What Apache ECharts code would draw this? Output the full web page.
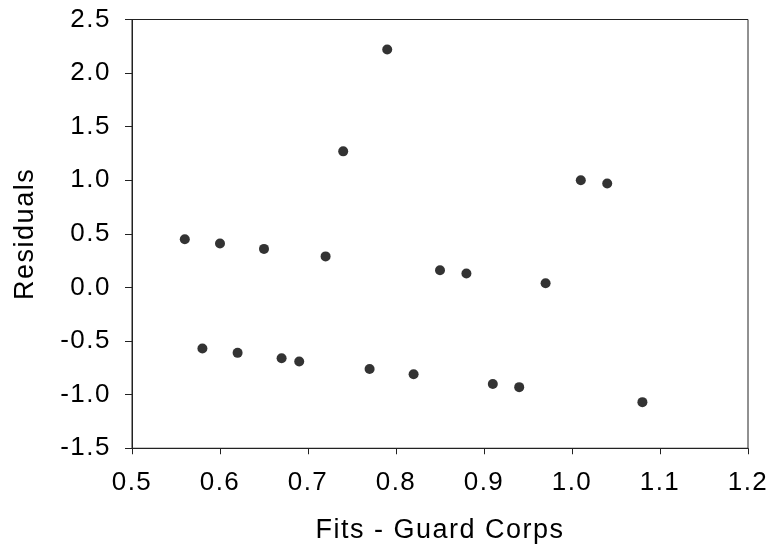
<!DOCTYPE html>
<html>
<head>
<meta charset="utf-8">
<script src="https://cdn.jsdelivr.net/npm/echarts@6/dist/echarts.min.js"></script>
<style>html,body{margin:0;padding:0;background:#fff}#c{width:778px;height:550px}</style>
</head>
<body>
<div id="c"></div>
<script>
// Slight letter spacing to match the reference's text width
(function(){
  var P = CanvasRenderingContext2D.prototype;
  var f = P.fillText, m = P.measureText;
  P.fillText = function(){ try{ this.letterSpacing = '1.5px'; }catch(e){} return f.apply(this, arguments); };
  P.measureText = function(){ try{ this.letterSpacing = '1.5px'; }catch(e){} return m.apply(this, arguments); };
})();

const fits = [0.56, 0.58, 0.60, 0.62, 0.65, 0.67, 0.69, 0.72, 0.74, 0.77, 0.79, 0.82, 0.85, 0.88, 0.91, 0.94, 0.97, 1.01, 1.04, 1.08];
const residuals = [0.45, -0.57, 0.41, -0.61, 0.36, -0.66, -0.69, 0.29, 1.27, -0.76, 2.22, -0.81, 0.16, 0.13, -0.90, -0.93, 0.04, 1.00, 0.97, -1.07];
const xTitle = 'Fits - Guard Corps';
const yTitle = 'Residuals';

const pts = fits.map((x, i) => [x, residuals[i]]);
const font = '"Liberation Sans", Arial, sans-serif';

const chart = echarts.init(document.getElementById('c'), null, {renderer: 'canvas'});
chart.setOption({
  animation: false,
  backgroundColor: '#fff',
  grid: {left: 132, right: 30, top: 19.5, bottom: 101.5, show: true, borderColor: '#222', borderWidth: 1, backgroundColor: 'transparent'},
  xAxis: {
    type: 'value', min: 0.5, max: 1.2, interval: 0.1,
    name: xTitle, nameLocation: 'middle', nameGap: 69,
    nameTextStyle: {fontFamily: font, fontSize: 27, color: '#000', lineHeight: 27},
    axisLine: {show: true, onZero: false, lineStyle: {color: '#222', width: 1}},
    axisTick: {show: true, inside: false, length: 6, lineStyle: {color: '#222'}},
    axisLabel: {fontFamily: font, fontSize: 26, color: '#000', margin: 22, lineHeight: 26, formatter: v => v.toFixed(1)},
    splitLine: {show: false}
  },
  yAxis: {
    type: 'value', min: -1.5, max: 2.5, interval: 0.5,
    name: yTitle, nameLocation: 'middle', nameGap: 93, nameRotate: 90,
    nameTextStyle: {fontFamily: font, fontSize: 27, color: '#000', lineHeight: 27},
    axisLine: {show: true, onZero: false, lineStyle: {color: '#222', width: 1}},
    axisTick: {show: true, inside: false, length: 7, lineStyle: {color: '#222'}},
    axisLabel: {fontFamily: font, fontSize: 26, color: '#000', margin: 21, lineHeight: 26, padding: [4, 0, 0, 0], formatter: v => v.toFixed(1)},
    splitLine: {show: false}
  },
  series: [{
    type: 'scatter',
    data: pts,
    symbol: 'circle',
    symbolSize: 10,
    itemStyle: {color: '#000'}
  }]
});
</script>
</body>
</html>
